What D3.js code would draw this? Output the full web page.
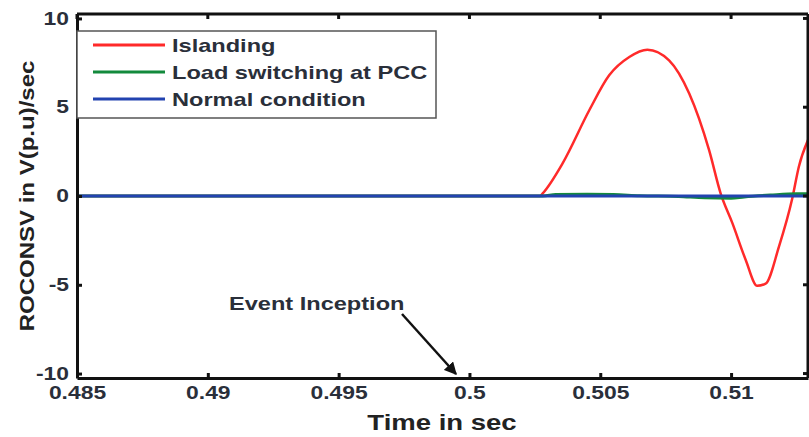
<!DOCTYPE html>
<html>
<head>
<meta charset="utf-8">
<script src="https://cdn.jsdelivr.net/npm/d3@7"></script>
<style>
  body { margin: 0; background: #fff; }
  svg { display: block; font-family: "Liberation Sans", Arial, sans-serif; font-weight: bold; }
</style>
</head>
<body>
<div id="chart"></div>
<script>
// series data
const islandT = [0.485, 0.5027, 0.5028, 0.50356, 0.50458, 0.50534, 0.50611, 0.5068, 0.50763, 0.5084, 0.50916, 0.5096, 0.51005, 0.51056, 0.511, 0.51132, 0.51183, 0.51234, 0.51259, 0.51294];
const islandV = [0, 0, 0.15, 1.84, 4.83, 6.8, 7.83, 8.24, 7.64, 5.77, 2.58, 0.15, -1.53, -3.6, -5.06, -4.94, -2.85, -0.13, 1.65, 3.15];

const loadT = [0.485, 0.5028, 0.5033, 0.5045, 0.5055, 0.5065, 0.508, 0.509, 0.51, 0.5105, 0.5115, 0.5125, 0.513];
const loadV = [0, 0, 0.08, 0.1, 0.08, 0.02, -0.03, -0.1, -0.12, -0.05, 0.05, 0.12, 0.12];

const normalT = [0.485, 0.513];
const normalV = [0, 0];

const xTicks = [0.485, 0.49, 0.495, 0.5, 0.505, 0.51];
const yTicks = [-10, -5, 0, 5, 10];
const legendNames = ["Islanding", "Load switching at PCC", "Normal condition"];
const colors = ["#ff2a2a", "#138a3c", "#2243b0"];

const W = 809, H = 437;
const margin = {top: 14, right: 1, bottom: 59, left: 77};
const textCol = "#2a2f3a";

// the picture's text is a bit wider than plain Arial, so stretch it
const stretch = (sel, f) => sel.each(function() {
  const w = this.getComputedTextLength();
  d3.select(this).attr("textLength", w * f).attr("lengthAdjust", "spacingAndGlyphs");
});

const svg = d3.select("#chart").append("svg")
    .attr("width", W)
    .attr("height", H);

const x = d3.scaleLinear().domain([0.485, 0.51294]).range([margin.left, W - margin.right]);
const y = d3.scaleLinear().domain([-10.25, 10.25]).range([H - margin.bottom, margin.top]);

const line = d3.line().x(d => x(d[0])).y(d => y(d[1])).curve(d3.curveMonotoneX);

const series = [
  d3.zip(islandT, islandV),
  d3.zip(loadT, loadV),
  d3.zip(normalT, normalV)
];

svg.append("clipPath").attr("id", "clip")
  .append("rect")
  .attr("x", margin.left).attr("y", margin.top)
  .attr("width", W - margin.left - margin.right)
  .attr("height", H - margin.top - margin.bottom);

const plot = svg.append("g").attr("clip-path", "url(#clip)");

// islanding first, then load switching, normal on top
[0, 1, 2].forEach(i => {
  plot.append("path")
    .datum(series[i])
    .attr("fill", "none")
    .attr("stroke", colors[i])
    .attr("stroke-width", i === 0 ? 2.5 : 3)
    .attr("d", line);
});

// axes, ticks pointing inward
const xAxis = svg.append("g")
  .attr("transform", `translate(0,${H - margin.bottom})`)
  .call(d3.axisBottom(x).tickValues(xTicks).tickFormat(d => String(d)).tickSizeInner(-5).tickSizeOuter(0).tickPadding(8));

const yAxis = svg.append("g")
  .attr("transform", `translate(${margin.left},0)`)
  .call(d3.axisLeft(y).tickValues(yTicks).tickFormat(d => String(d)).tickSizeInner(-5).tickSizeOuter(0).tickPadding(8));

[xAxis, yAxis].forEach(a => {
  a.select(".domain").attr("stroke", "#111").attr("stroke-width", 3);
  a.selectAll(".tick line").attr("stroke", "#111").attr("stroke-width", 3);
  a.selectAll(".tick text").attr("fill", textCol).style("font-size", "18px").style("font-weight", "bold");
  stretch(a.selectAll(".tick text"), 1.27);
});

// top and right frame
svg.append("line")
  .attr("x1", margin.left).attr("x2", W - margin.right)
  .attr("y1", margin.top).attr("y2", margin.top)
  .attr("stroke", "#111").attr("stroke-width", 3);
svg.append("line")
  .attr("x1", W - margin.right).attr("x2", W - margin.right)
  .attr("y1", margin.top).attr("y2", H - margin.bottom)
  .attr("stroke", "#111").attr("stroke-width", 3);

// small ticks on top / right
svg.selectAll(".ttick").data(xTicks).enter().append("line")
  .attr("x1", d => x(d)).attr("x2", d => x(d))
  .attr("y1", margin.top).attr("y2", margin.top + 5)
  .attr("stroke", "#111").attr("stroke-width", 3);
svg.selectAll(".rtick").data(yTicks).enter().append("line")
  .attr("x1", W - margin.right - 5).attr("x2", W - margin.right)
  .attr("y1", d => y(d)).attr("y2", d => y(d))
  .attr("stroke", "#111").attr("stroke-width", 3);

// legend
const lg = svg.append("g");
lg.append("rect")
  .attr("x", margin.left).attr("y", 31)
  .attr("width", 359).attr("height", 87)
  .attr("fill", "#fff").attr("stroke", "#555").attr("stroke-width", 1.5);
legendNames.forEach((n, i) => {
  const yy = 45 + i * 27;
  lg.append("line")
    .attr("x1", 93).attr("x2", 165)
    .attr("y1", yy).attr("y2", yy)
    .attr("stroke", colors[i]).attr("stroke-width", 3);
  const t = lg.append("text")
    .attr("x", 172).attr("y", yy + 7)
    .attr("fill", textCol)
    .style("font-size", "19px")
    .text(n);
  stretch(t, 1.24);
});

// annotation
svg.append("defs").append("marker")
  .attr("id", "arr").attr("viewBox", "0 0 10 10")
  .attr("refX", 9).attr("refY", 5)
  .attr("markerWidth", 5).attr("markerHeight", 5)
  .attr("orient", "auto")
  .append("path").attr("d", "M0,0 L10,5 L0,10 z").attr("fill", "#111");

const ev = svg.append("text")
  .attr("x", 229).attr("y", 310)
  .attr("fill", textCol)
  .style("font-size", "19px")
  .text("Event Inception");
stretch(ev, 1.24);

svg.append("line")
  .attr("x1", 402).attr("y1", 314)
  .attr("x2", 456).attr("y2", 374)
  .attr("stroke", "#111").attr("stroke-width", 2.5)
  .attr("marker-end", "url(#arr)");

// axis titles
const xt = svg.append("text")
  .attr("x", 442).attr("y", 430)
  .attr("text-anchor", "middle")
  .attr("fill", "#222")
  .style("font-size", "22px")
  .text("Time in sec");
stretch(xt, 1.25);

const yt = svg.append("text")
  .attr("transform", `translate(34,${y(0)}) rotate(-90)`)
  .attr("text-anchor", "middle")
  .attr("fill", "#222")
  .style("font-size", "20px")
  .text("ROCONSV in V(p.u)/sec");
stretch(yt, 1.2);
</script>
</body>
</html>
